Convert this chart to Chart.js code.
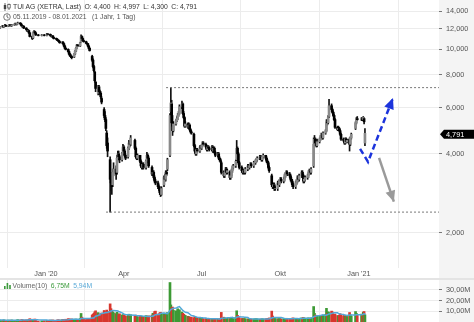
<!DOCTYPE html>
<html><head><meta charset="utf-8">
<script src="https://cdn.jsdelivr.net/npm/chart.js@4.4.1/dist/chart.umd.min.js"></script>
<style>
html,body{margin:0;padding:0;background:#fff;width:474px;height:322px;overflow:hidden;font-family:'Liberation Sans',Arial,sans-serif;}
#wrap{position:relative;width:474px;height:322px;}
canvas{position:absolute;left:0;}
#pc{top:0;}
#vc{top:279px;}
#sep{position:absolute;left:0;top:278px;width:474px;height:2px;background:#e4e4e4;}
.t{position:absolute;font-size:6.8px;white-space:nowrap;line-height:8px;}
.t span{margin-left:3.5px;}
svg{position:absolute;}
</style></head><body>
<div id="wrap">
<canvas id="pc" width="474" height="279"></canvas>
<canvas id="vc" width="474" height="43"></canvas>
<div id="sep"></div>
<svg style="left:3px;top:3px" width="8" height="8" viewBox="0 0 8 8"><line x1="2" y1="0" x2="2" y2="8" stroke="#444" stroke-width="0.8"/><rect x="0.8" y="2" width="2.4" height="4" fill="#444"/><line x1="6" y1="0.5" x2="6" y2="7" stroke="#444" stroke-width="0.8"/><rect x="4.8" y="1.5" width="2.4" height="3.5" fill="#fff" stroke="#444" stroke-width="0.7"/></svg>
<div class="t" style="left:13px;top:3px;color:#333">TUI AG (XETRA, Last)<span>O: 4,400</span><span>H: 4,997</span><span>L: 4,300</span><span>C: 4,791</span></div>
<svg style="left:3px;top:12.5px" width="8" height="8" viewBox="0 0 8 8"><circle cx="4" cy="4" r="3.3" fill="none" stroke="#555" stroke-width="0.8"/><polyline points="4,1.8 4,4 5.6,4.9" fill="none" stroke="#555" stroke-width="0.8"/></svg>
<div class="t" style="left:13px;top:12.5px;color:#555">05.11.2019 - 08.01.2021<span style="margin-left:5.5px">(1 Jahr, 1 Tag)</span></div>
<svg style="left:4px;top:283px" width="7" height="6" viewBox="0 0 7 6"><rect x="0" y="3" width="1.6" height="3" fill="#3c9a3c"/><rect x="2.6" y="0" width="1.6" height="6" fill="#3c9a3c"/><rect x="5.2" y="2" width="1.6" height="4" fill="#3c9a3c"/></svg>
<div class="t" style="left:12.5px;top:282px;color:#666">Volume(10)<span style="color:#3c9a3c">6,75M</span><span style="color:#5aaad8">5,94M</span></div>
</div>
<script>
// ---- categories: trading days 05.11.2019 - 08.01.2021 (XETRA) ----
const firstDay = '2019-11-05', lastDay = '2021-01-08';
const holidays = ['2019-12-24','2019-12-25','2019-12-26','2019-12-31','2020-01-01','2020-04-10','2020-04-13','2020-05-01','2020-12-24','2020-12-25','2020-12-31','2021-01-01'];

// ---- OHLC (EUR) ----
const open = [
12.05,12.10,12.15,12.05,12.20,12.25,12.20,12.30,12.35,12.25,12.30,12.40,12.35,12.30,12.40,12.45,12.50,12.45,12.55,
12.60,12.50,12.35,12.20,12.25,12.05,11.90,11.75,11.80,11.55,11.20,11.05,11.60,11.70,11.55,11.35,11.30,11.35,
11.30,11.45,11.40,11.30,11.20,11.25,11.10,11.00,10.95,10.85,10.80,10.70,10.60,10.65,10.50,10.30,10.10,10.00,9.80,9.60,9.45,9.40,
9.35,9.60,9.85,10.10,10.40,10.30,10.70,11.20,11.00,10.80,10.70,10.55,10.50,10.30,10.10,9.40,9.10,8.60,8.20,7.50,
6.80,7.20,6.90,6.80,6.50,5.90,5.60,5.40,4.80,4.40,3.80,3.20,3.15,3.05,3.40,3.50,3.40,3.85,4.00,3.90,3.80,4.00,
4.25,4.10,3.95,3.90,4.20,4.40,4.35,4.50,4.20,3.90,3.85,3.95,3.75,3.60,3.55,3.65,3.55,3.75,3.95,3.85,
3.55,3.35,3.40,3.25,3.15,3.10,3.00,2.95,2.85,2.80,3.05,3.25,3.20,3.40,3.50,3.95,5.80,6.20,5.30,4.90,
5.20,5.35,5.45,5.60,5.70,6.05,6.20,5.70,5.50,5.10,5.20,5.05,5.15,4.95,4.85,4.75,4.30,4.10,4.00,4.15,4.10,4.25,
4.20,4.30,4.40,4.35,4.25,4.15,4.25,4.20,4.15,4.25,4.10,4.20,4.05,3.95,4.00,3.85,3.80,3.70,3.40,3.30,3.40,3.50,3.40,
3.40,3.25,3.30,3.45,3.55,3.60,3.80,4.20,4.00,3.70,3.55,3.45,3.40,3.45,3.40,3.50,3.60,3.55,3.60,3.65,3.60,
3.70,3.70,3.75,3.80,3.85,3.90,3.85,3.80,3.90,3.95,3.85,3.75,3.70,3.55,3.30,3.05,3.00,3.05,2.95,2.95,3.10,3.05,
3.15,3.20,3.15,3.20,3.30,3.35,3.40,3.35,3.30,3.20,3.15,3.05,3.00,3.10,3.15,3.25,3.20,3.30,3.40,3.30,3.15,3.20,
3.25,3.30,3.40,3.45,3.40,3.60,4.35,4.55,4.40,4.30,4.45,4.55,4.65,4.70,4.60,4.80,4.90,5.30,5.25,5.55,6.10,
5.90,5.75,5.60,5.40,5.05,4.95,5.00,4.90,4.75,4.55,4.50,4.40,4.55,4.45,4.55,4.35,4.60,5.00,5.25,5.45,
5.40,5.45,5.40,5.45,4.40];
const high = [
12.20,12.25,12.20,12.25,12.35,12.30,12.35,12.45,12.40,12.35,12.45,12.45,12.40,12.45,12.50,12.60,12.55,12.60,12.70,
12.65,12.55,12.40,12.30,12.30,12.10,11.95,11.90,11.85,11.60,11.25,11.65,11.80,11.75,11.60,11.40,11.40,11.40,
11.50,11.50,11.45,11.35,11.30,11.30,11.15,11.05,11.00,10.90,10.85,10.75,10.70,10.70,10.55,10.35,10.15,10.05,9.85,9.65,9.55,9.45,
9.65,9.90,10.15,10.45,10.45,10.65,11.35,11.25,11.05,10.85,10.75,10.60,10.55,10.35,10.15,9.50,9.20,8.70,8.25,7.55,
7.30,7.30,7.00,6.90,6.60,6.00,5.80,5.50,4.90,4.60,3.90,3.40,3.30,3.50,3.70,3.60,3.95,4.10,4.10,3.95,4.05,4.35,
4.30,4.15,4.00,4.25,4.50,4.45,4.70,4.55,4.25,3.95,4.00,3.95,3.80,3.65,3.70,3.70,3.80,4.05,4.00,3.90,
3.60,3.45,3.45,3.30,3.20,3.15,3.05,3.00,2.90,3.00,3.30,3.35,3.45,3.45,3.85,5.70,7.15,6.40,5.60,5.30,
5.40,5.55,5.70,5.80,6.15,6.35,6.25,5.80,5.55,5.30,5.25,5.25,5.20,5.00,4.90,4.80,4.35,4.15,4.20,4.20,4.30,4.30,
4.35,4.45,4.45,4.40,4.30,4.30,4.30,4.25,4.30,4.30,4.25,4.25,4.10,4.05,4.05,3.90,3.85,3.75,3.45,3.45,3.55,3.55,3.50,
3.45,3.35,3.50,3.60,3.65,3.80,4.50,4.25,4.05,3.75,3.60,3.50,3.50,3.50,3.55,3.65,3.65,3.65,3.70,3.70,3.75,
3.75,3.80,3.85,3.90,3.95,3.95,3.90,3.95,4.00,3.95,3.90,3.80,3.75,3.60,3.35,3.10,3.10,3.10,3.00,3.15,3.15,3.20,
3.25,3.25,3.25,3.35,3.40,3.45,3.45,3.40,3.35,3.25,3.20,3.10,3.15,3.20,3.30,3.30,3.35,3.45,3.45,3.35,3.25,3.30,
3.35,3.45,3.50,3.50,3.55,4.60,4.70,4.60,4.45,4.55,4.60,4.70,4.80,4.75,4.85,4.95,5.40,5.40,5.60,6.45,6.20,
5.95,5.80,5.65,5.45,5.10,5.10,5.05,4.95,4.80,4.60,4.55,4.60,4.60,4.55,4.60,4.65,4.80,5.30,5.50,5.55,
5.50,5.50,5.55,5.50,4.997];
const low = [
12.00,12.05,12.00,12.00,12.15,12.15,12.15,12.25,12.20,12.20,12.25,12.30,12.25,12.25,12.35,12.40,12.40,12.40,12.50,
12.45,12.30,12.15,12.15,12.00,11.85,11.70,11.70,11.50,11.15,10.90,11.00,11.55,11.50,11.30,11.25,11.25,11.25,
11.25,11.35,11.25,11.15,11.15,11.05,10.95,10.90,10.80,10.75,10.65,10.55,10.55,10.45,10.25,10.05,9.95,9.75,9.55,9.40,9.30,9.20,
9.30,9.55,9.80,10.05,10.25,10.25,10.65,10.95,10.75,10.65,10.50,10.45,10.25,10.05,9.85,9.00,8.50,8.20,7.50,6.90,
6.70,6.80,6.70,6.50,6.20,5.50,5.30,4.90,4.20,3.90,2.40,2.90,2.80,3.00,3.30,3.20,3.35,3.75,3.80,3.70,3.75,3.95,
4.05,3.90,3.80,3.85,4.15,4.25,4.30,4.15,3.85,3.80,3.80,3.70,3.55,3.50,3.50,3.50,3.50,3.70,3.80,3.55,
3.30,3.30,3.20,3.10,3.05,2.95,2.90,2.80,2.75,2.78,3.00,3.15,3.15,3.30,3.45,3.90,5.60,5.10,4.70,4.85,
5.15,5.30,5.40,5.55,5.65,5.95,5.65,5.45,5.05,5.05,5.00,5.00,4.90,4.80,4.75,4.25,4.05,3.95,3.95,4.05,4.05,4.15,
4.15,4.25,4.30,4.20,4.10,4.10,4.15,4.10,4.10,4.05,4.05,4.00,3.90,3.90,3.80,3.75,3.70,3.35,3.25,3.25,3.35,3.35,3.35,
3.20,3.20,3.25,3.40,3.50,3.55,3.75,3.95,3.65,3.50,3.40,3.35,3.35,3.35,3.35,3.45,3.50,3.50,3.55,3.55,3.55,
3.65,3.65,3.70,3.75,3.80,3.80,3.75,3.75,3.85,3.80,3.70,3.65,3.50,3.40,3.00,2.95,2.95,2.90,2.90,2.90,3.00,3.00,
3.10,3.10,3.10,3.15,3.25,3.30,3.30,3.25,3.15,3.10,3.00,2.95,2.95,3.05,3.10,3.15,3.15,3.25,3.25,3.10,3.10,3.15,
3.20,3.25,3.35,3.35,3.35,3.55,4.30,4.35,4.25,4.25,4.40,4.50,4.60,4.55,4.55,4.75,4.85,5.15,5.20,5.50,5.80,
5.70,5.55,5.35,5.00,4.90,4.90,4.85,4.70,4.50,4.45,4.35,4.35,4.40,4.40,4.10,4.30,4.55,4.95,5.20,5.35,
5.35,5.35,5.35,5.20,4.30];
const close = [
12.10,12.15,12.05,12.20,12.25,12.20,12.30,12.35,12.25,12.30,12.40,12.35,12.30,12.40,12.45,12.50,12.45,12.55,12.60,
12.50,12.35,12.20,12.25,12.05,11.90,11.75,11.80,11.55,11.20,11.00,11.60,11.70,11.55,11.35,11.30,11.35,11.30,
11.45,11.40,11.30,11.20,11.25,11.10,11.00,10.95,10.85,10.80,10.70,10.60,10.65,10.50,10.30,10.10,10.00,9.80,9.60,9.45,9.40,9.30,
9.60,9.85,10.10,10.40,10.30,10.60,11.20,11.00,10.80,10.70,10.55,10.50,10.30,10.10,9.90,9.10,8.60,8.30,7.60,7.10,
7.20,6.90,6.80,6.60,6.30,5.60,5.40,5.00,4.30,4.10,3.20,3.10,3.00,3.40,3.50,3.35,3.85,4.00,3.90,3.80,4.00,4.25,
4.10,3.95,3.85,4.20,4.40,4.35,4.60,4.20,3.90,3.85,3.95,3.75,3.60,3.55,3.65,3.55,3.75,3.95,3.85,3.60,
3.35,3.40,3.25,3.15,3.10,3.00,2.95,2.85,2.80,2.95,3.25,3.20,3.40,3.35,3.80,5.60,6.25,5.25,4.90,5.20,
5.35,5.45,5.60,5.70,6.05,6.20,5.70,5.50,5.10,5.20,5.05,5.15,4.95,4.85,4.80,4.30,4.10,4.00,4.15,4.10,4.25,4.20,
4.30,4.40,4.35,4.25,4.15,4.25,4.20,4.15,4.25,4.10,4.20,4.05,3.95,4.00,3.85,3.80,3.75,3.40,3.30,3.40,3.50,3.40,3.45,
3.25,3.30,3.45,3.55,3.60,3.75,4.20,4.00,3.70,3.55,3.45,3.40,3.45,3.40,3.50,3.60,3.55,3.60,3.65,3.60,3.70,
3.70,3.75,3.80,3.85,3.90,3.85,3.80,3.90,3.95,3.85,3.75,3.70,3.55,3.45,3.05,3.00,3.05,2.95,2.95,3.10,3.05,3.15,
3.20,3.15,3.20,3.30,3.35,3.40,3.35,3.30,3.20,3.15,3.05,3.00,3.10,3.15,3.25,3.20,3.30,3.40,3.30,3.15,3.20,3.25,
3.30,3.40,3.45,3.40,3.50,4.35,4.55,4.40,4.30,4.45,4.55,4.65,4.70,4.60,4.80,4.90,5.30,5.25,5.50,6.10,5.90,
5.75,5.60,5.40,5.05,4.95,5.00,4.90,4.75,4.55,4.50,4.40,4.55,4.45,4.50,4.35,4.60,4.75,5.25,5.45,5.40,
5.45,5.40,5.50,5.30,4.791];

// ---- volume (millions) ----
const volume = [
2.1,1.8,1.6,1.9,1.5,1.7,2.0,1.4,1.6,1.8,1.5,1.3,1.7,1.9,1.6,1.4,1.5,1.8,2.2,
1.9,1.7,2.3,1.6,1.8,2.0,1.7,1.5,2.4,3.1,2.6,1.9,1.7,2.8,1.4,0.9,1.1,1.2,
1.3,1.6,1.8,1.5,1.7,1.9,1.6,1.4,1.8,2.0,1.7,1.9,2.2,2.5,1.8,2.0,2.6,3.1,2.8,2.7,2.4,2.9,
2.6,2.4,2.8,2.5,2.2,3.2,8.0,4.5,3.1,2.6,2.3,2.1,2.4,2.7,3.0,6.5,7.2,8.1,9.5,10.5,
8.8,7.5,6.9,7.2,8.4,10.8,9.6,8.9,11.2,9.8,17.0,12.5,10.2,9.4,8.6,7.9,9.1,7.4,6.8,7.7,6.5,6.9,
6.2,5.8,5.5,6.1,7.3,5.9,6.8,5.6,6.4,5.2,4.9,5.7,5.1,4.6,5.3,4.8,6.0,5.4,4.9,5.8,
6.5,8.2,7.1,9.8,10.2,7.4,6.9,8.5,9.1,7.8,8.3,6.4,7.5,6.8,8.9,37.0,16.0,13.0,14.0,11.0,
10.5,9.2,12.4,10.1,11.5,9.4,8.1,7.2,6.5,6.1,5.4,5.0,4.6,4.2,4.5,3.9,5.2,4.4,3.8,3.6,3.9,3.4,
3.2,3.5,2.9,3.1,3.4,2.8,3.0,2.7,3.3,2.9,3.1,2.6,2.8,3.0,2.5,2.7,3.2,9.0,4.5,3.8,3.4,3.1,3.6,
4.2,3.6,3.9,4.1,3.5,4.4,10.5,6.2,4.6,3.8,3.3,3.0,3.2,2.9,3.1,2.8,3.0,2.7,2.9,2.6,2.8,
2.7,2.9,3.1,2.8,2.6,2.5,2.8,3.0,2.7,2.9,3.2,3.0,3.4,3.8,10.2,5.6,4.1,3.6,3.3,3.1,2.9,3.2,
3.0,2.8,2.9,3.3,3.1,3.5,2.9,2.7,3.0,3.4,3.6,3.8,3.2,2.9,3.1,2.8,3.3,3.9,3.5,4.2,3.7,3.4,
3.6,3.8,3.4,3.2,3.9,14.5,8.2,6.4,5.1,5.8,6.1,5.3,4.9,5.6,6.2,7.1,12.8,8.4,9.6,8.8,10.2,
9.4,7.2,6.8,7.5,6.1,5.7,6.3,7.8,6.9,5.8,6.4,5.5,6.0,5.2,8.9,6.6,5.4,9.8,8.1,6.2,
7.4,6.1,9.3,9.8,6.75];

// ---- axes ----
const xTickDays = [0, 91, 182, 274, 366];          // days since 01.01.2020
const xTickLabels = ["Jan '20", "Apr", "Jul", "Okt", "Jan '21"];
const priceTicks = [2, 4, 6, 8, 10, 12, 14];
const volumeTicks = [10, 20, 30];
const xMin = -53.8, xMax = 459.6;
const priceMin = 1.47, priceMax = 15.42;
const volumeMax = 40.3;

// ---- annotations (day, price) ----
const resistance = [[140.4, 7.15], [459.6, 7.15]];
const support = [[70.2, 2.40], [459.6, 2.40]];
const blueArrow = [[367.3, 4.18], [376.6, 3.73], [405.8, 6.53]];
const grayArrow = [[389.5, 3.86], [406.8, 2.63]];

// build trading-day positions
const epoch = Date.UTC(2020, 0, 1);
const days = [];
for (let t = Date.parse(firstDay + 'T00:00:00Z'); t <= Date.parse(lastDay + 'T00:00:00Z'); t += 86400000) {
  const d = new Date(t), wd = d.getUTCDay();
  if (wd === 0 || wd === 6) continue;
  if (holidays.includes(d.toISOString().slice(0, 10))) continue;
  days.push(Math.round((t - epoch) / 86400000));
}
const n = Math.min(days.length, close.length);
const idx = [...Array(n).keys()];
const isUp = i => close[i] >= open[i];
const volMA = volume.map((v, i) => { const s = volume.slice(Math.max(0, i - 9), i + 1); return s.reduce((a, b) => a + b, 0) / s.length; });

Chart.defaults.font.family = "'Liberation Sans', Arial, sans-serif";
Chart.defaults.font.size = 7.3;
Chart.defaults.color = '#555';

const fmtDE = (v, d) => v.toFixed(d).replace('.', ',');
const zeroPad = s => { s.paddingTop = 0; s.paddingBottom = 0; s.paddingLeft = 0; s.paddingRight = 0; };

const bandPlugin = {
  id: 'band',
  beforeDraw(c) {
    const ctx = c.ctx, a = c.chartArea;
    ctx.save(); ctx.fillStyle = '#f4f4f4';
    ctx.fillRect(a.right, 0, c.width - a.right, c.height);
    ctx.restore();
  }
};
const arrowPlugin = {
  id: 'arrowheads',
  afterDatasetsDraw(c) {
    const ctx = c.ctx;
    c.data.datasets.forEach((ds, di) => {
      if (!ds.arrowHead) return;
      const pts = c.getDatasetMeta(di).data;
      const p1 = pts[pts.length - 2], p2 = pts[pts.length - 1];
      const ang = Math.atan2(p2.y - p1.y, p2.x - p1.x);
      const L = 11, W = 5;
      ctx.save();
      ctx.fillStyle = ds.borderColor;
      ctx.beginPath();
      ctx.moveTo(p2.x, p2.y);
      ctx.lineTo(p2.x - L * Math.cos(ang) + W * Math.sin(ang), p2.y - L * Math.sin(ang) - W * Math.cos(ang));
      ctx.lineTo(p2.x - L * Math.cos(ang) - W * Math.sin(ang), p2.y - L * Math.sin(ang) + W * Math.cos(ang));
      ctx.closePath(); ctx.fill();
      ctx.restore();
    });
  }
};
const tagPlugin = {
  id: 'pricetag',
  afterDraw(c) {
    const ctx = c.ctx, a = c.chartArea;
    const last = close[n - 1];
    const y = c.scales.y.getPixelForValue(last) + 1;
    ctx.save();
    ctx.fillStyle = '#000';
    ctx.beginPath();
    ctx.moveTo(a.right + 1, y);
    ctx.lineTo(a.right + 5, y - 4.5);
    ctx.lineTo(c.width, y - 4.5);
    ctx.lineTo(c.width, y + 4.5);
    ctx.lineTo(a.right + 5, y + 4.5);
    ctx.closePath(); ctx.fill();
    ctx.fillStyle = '#fff';
    ctx.font = "7.3px 'Liberation Sans', Arial, sans-serif";
    ctx.textBaseline = 'middle';
    ctx.fillText(fmtDE(last, 3), a.right + 7, y + 0.5);
    ctx.restore();
  }
};

const xScale = (showLabels) => ({
  type: 'linear', min: xMin, max: xMax, offset: false,
  border: { display: false },
  grid: { color: '#ececec', drawTicks: false, lineWidth: 1 },
  afterBuildTicks: s => { s.ticks = xTickDays.map(v => ({ value: v })); },
  ticks: { display: showLabels, autoSkip: false, maxRotation: 0, padding: 2, color: '#555',
           callback: (v, i) => xTickLabels[i] },
  afterFit: s => { s.height = showLabels ? 11 : 0; zeroPad(s); }
});

new Chart(document.getElementById('pc'), {
  data: {
    datasets: [
      { type: 'bar', order: 5, grouped: false, barThickness: 1, backgroundColor: '#111',
        data: idx.map(i => ({ x: days[i], y: [low[i], high[i]] })) },
      { type: 'bar', order: 4, grouped: false, barThickness: 2, borderSkipped: false,
        backgroundColor: idx.map(i => isUp(i) ? '#8a8a8a' : '#000000'),
        data: idx.map(i => ({ x: days[i], y: [open[i], close[i]] })) },
      { type: 'line', order: 3, borderColor: '#777', borderWidth: 1, borderDash: [2, 2], pointRadius: 0,
        data: resistance.map(p => ({ x: p[0], y: p[1] })) },
      { type: 'line', order: 3, borderColor: '#777', borderWidth: 1, borderDash: [2, 2], pointRadius: 0,
        data: support.map(p => ({ x: p[0], y: p[1] })) },
      { type: 'line', order: 1, arrowHead: true, borderColor: '#1c34dc', borderWidth: 2.5, borderDash: [6, 3.5],
        pointRadius: 0, tension: 0, data: blueArrow.map(p => ({ x: p[0], y: p[1] })) },
      { type: 'line', order: 1, arrowHead: true, borderColor: '#9a9a9a', borderWidth: 2.5,
        pointRadius: 0, tension: 0, data: grayArrow.map(p => ({ x: p[0], y: p[1] })) }
    ]
  },
  options: {
    responsive: false, animation: false, events: [],
    layout: { padding: 0, autoPadding: false },
    plugins: { legend: { display: false }, tooltip: { enabled: false } },
    scales: {
      x: xScale(true),
      y: {
        type: 'logarithmic', position: 'right', min: priceMin, max: priceMax,
        border: { display: false },
        grid: { color: '#ececec', tickColor: '#777', tickLength: 3 },
        afterBuildTicks: s => { s.ticks = priceTicks.map(v => ({ value: v })); },
        ticks: { padding: 4, color: '#555', callback: v => fmtDE(v, 3) },
        afterFit: s => { s.width = 35; zeroPad(s); }
      }
    }
  },
  plugins: [bandPlugin, arrowPlugin, tagPlugin]
});

new Chart(document.getElementById('vc'), {
  data: {
    datasets: [
      { type: 'line', order: 0, borderColor: '#52a8d8', borderWidth: 1.5, pointRadius: 0, tension: 0,
        data: idx.map(i => ({ x: days[i], y: volMA[i] })) },
      { type: 'bar', order: 1, grouped: false, barThickness: 2,
        backgroundColor: idx.map(i => isUp(i) ? '#3d9a35' : '#d7372e'),
        data: idx.map(i => ({ x: days[i], y: volume[i] })) }
    ]
  },
  options: {
    responsive: false, animation: false, events: [],
    layout: { padding: 0, autoPadding: false },
    plugins: { legend: { display: false }, tooltip: { enabled: false } },
    scales: {
      x: xScale(false),
      y: {
        type: 'linear', position: 'right', min: 0, max: volumeMax,
        border: { display: false },
        grid: { color: '#ececec', tickColor: '#777', tickLength: 3 },
        afterBuildTicks: s => { s.ticks = volumeTicks.map(v => ({ value: v })); },
        ticks: { padding: 4, color: '#555', callback: v => fmtDE(v, 2) + 'M' },
        afterFit: s => { s.width = 35; zeroPad(s); }
      }
    }
  },
  plugins: [bandPlugin]
});
</script>
</body></html>
